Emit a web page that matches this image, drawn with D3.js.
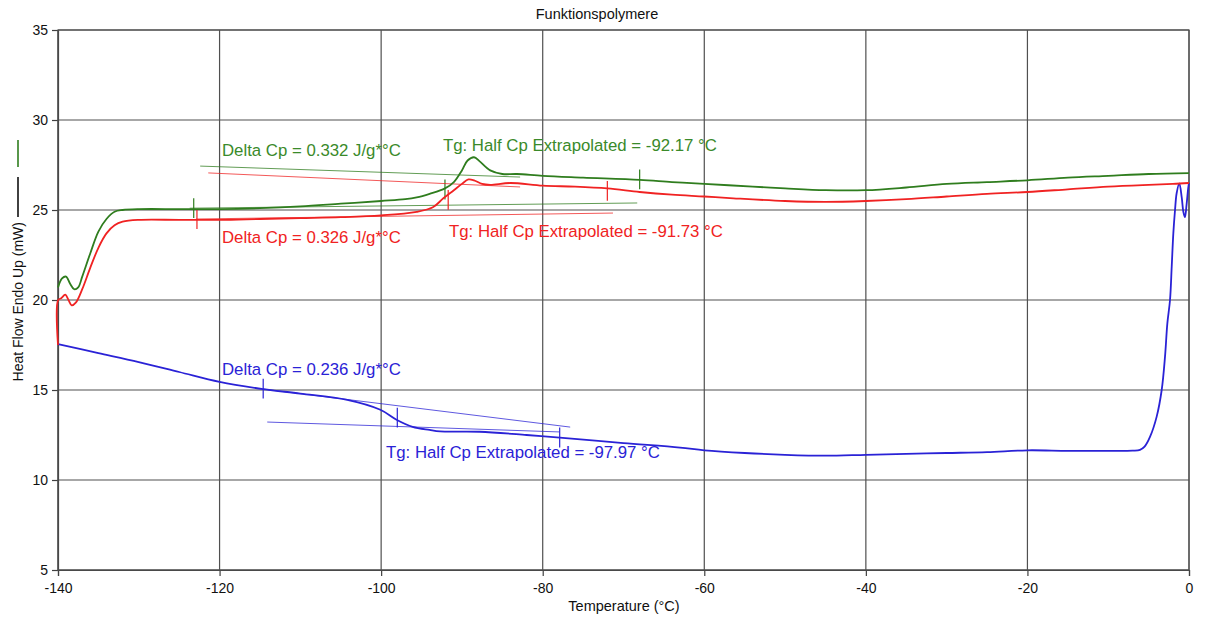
<!DOCTYPE html>
<html>
<head>
<meta charset="utf-8">
<script src="https://cdn.jsdelivr.net/npm/d3@7"></script>
<style>
  html, body { margin: 0; padding: 0; background: #fff; }
  svg { display: block; font-family: "Liberation Sans", Arial, sans-serif; }
</style>
</head>
<body>
<svg id="chart" width="1207" height="619"></svg>
<script>
// Heat flow curves (temperature in °C, heat flow in mW)
const greenTemp = [-140, -139.5, -139, -138.5, -138, -137.5, -137, -136, -135, -134, -133, -132, -130, -125, -120, -115, -110, -105, -100, -97, -95.6, -94, -92.1, -91, -90, -89.3, -88.5, -87.8, -86.5, -85, -83.2, -80, -75, -68, -64, -60, -54, -50, -45, -40, -35, -30, -25, -20, -15, -10, -5, 0];
const greenFlow = [20.7, 21.2, 21.3, 20.9, 20.6, 20.7, 21.3, 22.6, 23.8, 24.5, 24.9, 25.0, 25.05, 25.05, 25.05, 25.1, 25.2, 25.35, 25.5, 25.6, 25.7, 25.9, 26.2, 26.55, 27.2, 27.75, 27.93, 27.7, 27.2, 27.0, 27.0, 26.9, 26.8, 26.67, 26.55, 26.45, 26.3, 26.2, 26.1, 26.1, 26.25, 26.45, 26.55, 26.65, 26.8, 26.9, 27.0, 27.05];

const redTemp = [-140, -139.98, -139.6, -139.1, -138.7, -138.3, -137.8, -137, -136, -135, -134, -133, -132, -130, -125, -120, -115, -110, -105, -100, -95.6, -93.6, -92.3, -91, -90, -89.2, -88.5, -87.5, -86.5, -84, -80, -76, -72, -68, -64, -60, -56.4, -50, -45, -40, -35, -30, -25, -20, -15, -10, -5, -2, 0];
const redFlow = [17.5, 20.0, 20.1, 20.3, 20.0, 19.7, 19.85, 20.6, 21.8, 22.9, 23.7, 24.15, 24.35, 24.45, 24.45, 24.45, 24.5, 24.55, 24.6, 24.7, 24.9, 25.15, 25.65, 26.1, 26.45, 26.7, 26.65, 26.45, 26.4, 26.5, 26.35, 26.3, 26.2, 26.0, 25.85, 25.75, 25.65, 25.5, 25.45, 25.5, 25.6, 25.75, 25.9, 26.0, 26.15, 26.3, 26.4, 26.45, 26.5];

const blueTemp = [-140, -135, -130, -125, -120, -114.6, -110, -104.2, -100.1, -98.1, -96.1, -94, -92.7, -87.8, -82, -77.9, -70, -63, -60, -55, -50, -45, -40, -35, -30, -25, -20, -15, -10, -7, -6.07, -5.5, -4.83, -4.0, -3.38, -2.97, -2.68, -2.35, -2.14, -1.94, -1.73, -1.53, -1.2, -0.9, -0.7, -0.5, -0.3, -0.1, 0];
const blueFlow = [17.55, 17.05, 16.55, 16.0, 15.45, 15.05, 14.8, 14.45, 13.9, 13.35, 12.95, 12.78, 12.7, 12.68, 12.5, 12.35, 12.05, 11.8, 11.65, 11.5, 11.4, 11.35, 11.4, 11.45, 11.5, 11.55, 11.65, 11.62, 11.62, 11.63, 11.67, 11.85, 12.39, 13.52, 15.0, 16.85, 18.7, 20.0, 21.85, 23.7, 25.0, 25.93, 26.48, 25.7, 24.9, 24.6, 25.3, 26.2, 26.5];

// Glass transition analysis: tangent lines, limit/midpoint ticks and labels
const greenTangents = [[[-122.4, 27.44], [-82.8, 26.83]], [[-123.7, 25.1], [-68.3, 25.39]]];
const greenTicks = [[-123.2, 25.1], [-92.1, 26.14], [-68.0, 26.7]];
const greenLabels = [[-119.7, 28.33, "Delta Cp = 0.332 J/g*°C"], [-92.35, 28.6, "Tg: Half Cp Extrapolated = -92.17 °C"]];

const redTangents = [[[-121.4, 27.06], [-82.8, 26.28]], [[-122.9, 24.5], [-71.3, 24.83]]];
const redTicks = [[-122.8, 24.5], [-91.7, 25.56], [-72.0, 26.06]];
const redLabels = [[-119.7, 23.5, "Delta Cp = 0.326 J/g*°C"], [-91.6, 23.83, "Tg: Half Cp Extrapolated = -91.73 °C"]];

const blueTangents = [[[-114.6, 15.05], [-76.6, 12.94]], [[-114.1, 13.22], [-77.9, 12.67]]];
const blueTicks = [[-114.6, 15.08], [-98.0, 13.47], [-77.9, 12.36]];
const blueLabels = [[-119.7, 16.17, "Delta Cp = 0.236 J/g*°C"], [-99.4, 11.56, "Tg: Half Cp Extrapolated = -97.97 °C"]];

const xTicks = [-140, -120, -100, -80, -60, -40, -20, 0];
const yTicks = [5, 10, 15, 20, 25, 30, 35];

const titleText = "Funktionspolymere";
const xLabelText = "Temperature (°C)";
const yLabelText = "Heat Flow Endo Up (mW)";

const colors = { green: "#2f7d1e", greenText: "#3a8a2a", red: "#f02222", blue: "#2a22d6" };

const svg = d3.select("#chart");
const margin = { left: 58, right: 18, top: 30, bottom: 49 };
const W = 1207, H = 619;

const x = d3.scaleLinear().domain([-140, 0]).range([margin.left, W - margin.right]);
const y = d3.scaleLinear().domain([5, 35]).range([H - margin.bottom, margin.top]);

// grid
const grid = svg.append("g");
grid.selectAll("line.v").data(xTicks).join("line")
  .attr("x1", d => x(d)).attr("x2", d => x(d))
  .attr("y1", y(35)).attr("y2", y(5))
  .attr("stroke", "#505050").attr("stroke-width", 1.2);
grid.selectAll("line.h").data(yTicks).join("line")
  .attr("x1", x(-140)).attr("x2", x(0))
  .attr("y1", d => y(d)).attr("y2", d => y(d))
  .attr("stroke", "#505050").attr("stroke-width", 1.2);

// axes (plain hyphen for negative numbers)
const plainFormat = d => String(d);
const xAxis = d3.axisBottom(x).tickValues(xTicks).tickSize(6).tickPadding(6).tickFormat(plainFormat);
const yAxis = d3.axisLeft(y).tickValues(yTicks).tickSize(6).tickPadding(4).tickFormat(plainFormat);

const gx = svg.append("g").attr("transform", `translate(0,${y(5)})`).call(xAxis);
const gy = svg.append("g").attr("transform", `translate(${x(-140)},0)`).call(yAxis);
[gx, gy].forEach(g => {
  g.select(".domain").attr("stroke", "#404040").attr("stroke-width", 1.2);
  g.selectAll(".tick line").attr("stroke", "#404040").attr("stroke-width", 1.2);
  g.selectAll(".tick text").attr("fill", "#111").style("font-size", "14px")
    .style("font-family", "'Liberation Sans', Arial, sans-serif");
});
gx.selectAll(".tick text").attr("dy", "0.8em");

// frame
svg.append("rect")
  .attr("x", x(-140)).attr("y", y(35))
  .attr("width", x(0) - x(-140)).attr("height", y(5) - y(35))
  .attr("fill", "none").attr("stroke", "#505050").attr("stroke-width", 1.2);

// titles
svg.append("text").attr("x", 597).attr("y", 19).attr("text-anchor", "middle")
  .style("font-size", "14.5px").attr("fill", "#111").text(titleText);
svg.append("text").attr("x", 624).attr("y", 611).attr("text-anchor", "middle")
  .style("font-size", "14.5px").attr("fill", "#111").text(xLabelText);
svg.append("text").attr("transform", "translate(23,222) rotate(-90)").attr("text-anchor", "end")
  .style("font-size", "14px").attr("fill", "#111").text(yLabelText);
svg.append("line").attr("x1", 18).attr("x2", 18).attr("y1", 177).attr("y2", 217)
  .attr("stroke", "#111").attr("stroke-width", 1.6);
svg.append("line").attr("x1", 18).attr("x2", 18).attr("y1", 140).attr("y2", 167)
  .attr("stroke", colors.green).attr("stroke-width", 1.6);

const line = d3.line().x(d => x(d[0])).y(d => y(d[1])).curve(d3.curveCatmullRom.alpha(0.5));
const plot = svg.append("g");

function drawAnalysis(tangents, ticks, labels, lineColor, textColor) {
  plot.append("g").selectAll("line").data(tangents).join("line")
    .attr("x1", d => x(d[0][0])).attr("y1", d => y(d[0][1]))
    .attr("x2", d => x(d[1][0])).attr("y2", d => y(d[1][1]))
    .attr("stroke", lineColor).attr("stroke-width", 1).attr("opacity", 0.75);
  plot.append("g").selectAll("line").data(ticks).join("line")
    .attr("x1", d => x(d[0])).attr("x2", d => x(d[0]))
    .attr("y1", d => y(d[1] + 0.55)).attr("y2", d => y(d[1] - 0.55))
    .attr("stroke", lineColor).attr("stroke-width", 1.2);
  plot.append("g").selectAll("text").data(labels).join("text")
    .attr("x", d => x(d[0])).attr("y", d => y(d[1])).attr("dy", "0.35em")
    .style("font-size", "16.8px").attr("fill", textColor).text(d => d[2]);
}

function drawCurve(temps, flows, color) {
  plot.append("path").datum(temps.map((t, i) => [t, flows[i]]))
    .attr("d", line).attr("fill", "none")
    .attr("stroke", color).attr("stroke-width", 1.8);
}

drawAnalysis(greenTangents, greenTicks, greenLabels, colors.green, colors.greenText);
drawAnalysis(redTangents, redTicks, redLabels, colors.red, colors.red);
drawAnalysis(blueTangents, blueTicks, blueLabels, colors.blue, colors.blue);

drawCurve(blueTemp, blueFlow, colors.blue);
drawCurve(redTemp, redFlow, colors.red);
drawCurve(greenTemp, greenFlow, colors.green);
</script>
</body>
</html>
